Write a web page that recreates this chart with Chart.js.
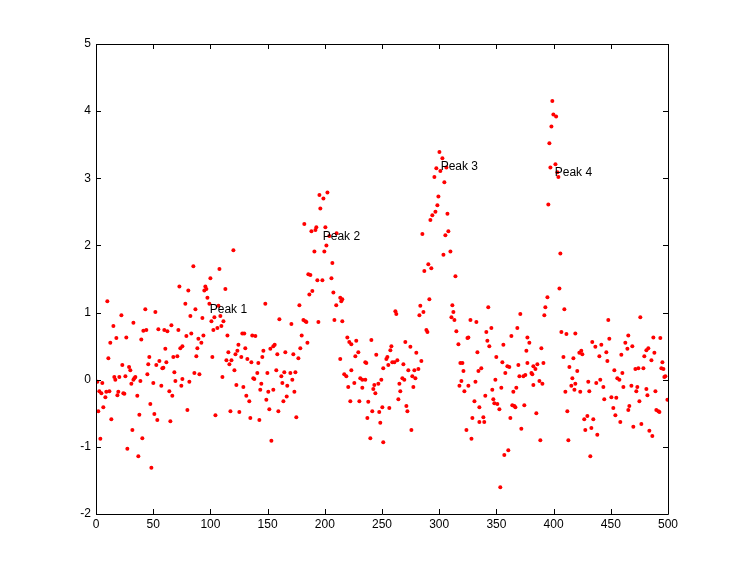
<!DOCTYPE html>
<html lang="en">
<head>
    <meta charset="UTF-8">
    <title>Peaks</title>
    <script src="https://cdn.jsdelivr.net/npm/chart.js"></script>
    <style>
        body { margin: 0; background: #fff; }
        #wrap { width: 737px; height: 577px; }
    </style>
</head>
<body>
    <div id="wrap"><canvas id="myChart" width="737" height="577"></canvas></div>
    <script>
    // sample positions
    const xValues = [
        9.9, 22.2, 32.7, 15.2, 41.4, 17.8, 26.5, 39.6, 12.5, 10.8, 23.0, 28.9, 30.0, 16.0, 20.4, 25.7, 16.9, 34.4, 33.5, 32.7,
        38.8, 1.2, 5.5, 30.9, 2.9, 4.7, 11.7, 9.0, 19.5, 23.9, 24.8, 18.7, 8.2, 36.1, 6.4, 2.0, 37.9, 13.4, 31.8, 40.5, 3.8, 27.4, 37.0,
        72.9, 80.7, 78.1, 43.1, 51.9, 82.5, 65.9, 44.0, 54.5, 59.7, 62.4, 72.0, 83.3, 79.0, 73.7, 75.5, 60.6, 46.6, 67.6, 71.1,
        55.4, 61.5, 45.7, 52.7, 58.0, 58.9, 68.5, 44.9, 75.5, 69.4, 81.6, 50.1, 57.1, 74.6, 64.1, 66.7, 47.5, 79.9, 51.0, 53.6, 65.0, 48.4,
        120.1, 85.1, 107.9, 100.0, 95.6, 96.5, 94.7, 113.1, 97.4, 99.1, 107.0, 86.9, 93.0, 100.9, 103.5, 108.7, 111.4, 109.6, 106.1, 102.6,
        93.9, 114.9, 89.5, 124.5, 92.1, 88.6, 115.7, 123.6, 121.9, 87.7, 101.7, 114.0, 118.4, 116.6, 121.0, 86.0, 90.4, 110.5, 122.7, 104.4, 117.5, 125.3,
        148.0, 160.3, 127.9, 129.6, 136.6, 139.3, 156.2, 155.0, 130.5, 152.4, 146.3, 165.5, 158.5, 127.0, 145.4, 132.3, 135.8, 141.9, 157.6, 164.6,
        141.0, 149.8, 162.0, 137.5, 138.4, 162.9, 144.5, 167.2, 128.8, 143.6, 155.0, 150.6, 131.4, 166.7, 134.0, 148.9, 163.8, 151.5, 159.4, 134.9, 142.8, 153.3,
        202.3, 195.3, 198.8, 196.1, 182.1, 200.5, 192.6, 191.8, 188.3, 204.0, 201.4, 190.9, 199.6, 206.6, 185.6, 187.4, 193.5, 197.9, 205.8, 189.1,
        186.5, 207.5, 177.8, 181.3, 183.0, 183.9, 194.4, 208.4, 170.8, 179.8, 184.8, 178.6, 172.5, 176.9, 174.3, 169.9, 171.6, 173.4, 175.1,
        210.3, 213.5, 215.3, 214.4, 210.0, 215.3, 219.7, 221.4, 223.2, 227.5, 240.7, 245.0, 229.3, 226.7, 213.5, 235.4, 236.3, 223.2, 251.1, 217.0,
        218.8, 231.0, 232.8, 235.4, 249.4, 225.8, 243.3, 246.8, 220.5, 232.8, 242.4, 244.2, 222.3, 230.2, 238.0, 250.3, 241.5, 247.6, 237.2, 248.5, 239.8, 251.1,
        292.3, 285.3, 290.5, 287.0, 293.1, 291.4, 283.5, 282.7, 286.2, 261.7, 262.5, 288.8, 289.7, 270.4, 258.2, 257.3, 274.8, 254.7, 253.8, 280.0,
        259.0, 260.8, 263.4, 284.4, 268.7, 255.5, 273.0, 278.3, 281.8, 267.8, 269.5, 276.5, 279.2, 265.2, 266.0, 277.4, 264.3, 271.3, 256.4, 272.2, 275.7,
        300.2, 302.8, 306.3, 297.5, 301.0, 295.8, 304.5, 299.3, 298.4, 296.7, 294.0, 307.2, 308.0, 305.4, 309.8, 303.7, 314.2, 311.5, 312.4, 310.7,
        313.3, 327.3, 332.5, 315.0, 325.5, 324.7, 316.8, 333.4, 318.5, 320.3, 321.2, 334.3, 319.4, 317.7, 325.5, 331.7, 322.0, 330.8, 335.1, 335.1, 329.0, 323.8, 328.2,
        342.9, 370.9, 345.6, 341.2, 368.3, 363.1, 377.1, 342.1, 343.8, 356.1, 376.2, 349.9, 355.2, 359.6, 361.3, 369.2, 377.1, 336.8, 357.8, 370.1,
        373.6, 375.3, 349.1, 364.8, 367.4, 346.4, 354.3, 340.3, 347.3, 348.2, 350.8, 363.9, 365.7, 366.6, 374.4, 352.6, 338.6, 362.2, 339.4, 371.8, 360.4, 356.9, 353.4,
        398.9, 399.8, 402.2, 398.1, 396.3, 401.6, 397.2, 403.3, 404.2, 395.4, 405.9, 405.1, 394.6, 392.8, 391.9, 409.4, 406.8, 411.2, 419.0, 378.8,
        389.3, 408.6, 417.3, 382.3, 384.1, 385.8, 391.1, 413.8, 380.6, 381.4, 416.4, 387.6, 390.2, 382.3, 419.0, 415.5, 418.2, 410.3, 384.9, 412.0, 388.4, 412.9,
        447.8, 448.7, 433.8, 436.5, 441.7, 446.1, 424.2, 422.5, 425.1, 440.0, 459.2, 447.0, 453.1, 420.7, 460.1, 455.7, 457.5, 440.8, 430.3, 437.3,
        443.5, 461.0, 431.2, 423.3, 444.3, 450.5, 454.8, 452.2, 454.0, 429.5, 426.8, 434.7, 458.3, 433.0, 427.7, 438.2, 432.1,
        475.8, 465.3, 487.2, 493.3, 462.7, 468.8, 464.5, 482.8, 481.1, 479.3, 488.1, 485.5, 495.1, 471.5, 474.1, 478.5, 494.2, 496.0, 496.8, 497.7,
        468.0, 473.2, 472.3, 481.1, 489.0, 482.0, 475.0, 499.5, 466.2, 465.3, 489.8, 491.6, 492.5, 469.7, 476.7, 483.7, 486.3
    ];
    // sample values, same order
    const yValues = [
        1.17, 0.96, 0.85, 0.80, 0.73, 0.62, 0.63, 0.60, 0.55, 0.32, 0.22, 0.19, 0.14, 0.04, 0.04, 0.05, 0.00, 0.04, 0.02, 0.00,
        -0.02, -0.03, -0.05, -0.06, -0.17, -0.20, -0.17, -0.18, -0.18, -0.20, -0.21, -0.23, -0.26, -0.24, -0.41, -0.47, -0.52, -0.59, -0.75, -0.87, -0.88, -1.03, -1.14,
        1.39, 1.33, 1.13, 1.05, 1.01, 0.95, 0.81, 0.74, 0.75, 0.74, 0.72, 0.74, 0.69, 0.65, 0.47, 0.50, 0.46, 0.34, 0.34, 0.35,
        0.28, 0.26, 0.23, 0.22, 0.17, 0.18, 0.11, 0.08, 0.01, -0.02, -0.03, -0.05, -0.09, -0.09, -0.17, -0.24, -0.36, -0.45, -0.51, -0.60, -0.62, -1.31,
        1.93, 1.69, 1.65, 1.51, 1.39, 1.35, 1.33, 1.35, 1.22, 1.13, 1.10, 1.05, 0.92, 0.87, 0.93, 0.95, 0.87, 0.80, 0.77, 0.74,
        0.66, 0.66, 0.61, 0.52, 0.55, 0.47, 0.41, 0.43, 0.38, 0.35, 0.34, 0.29, 0.29, 0.23, 0.14, 0.10, 0.08, 0.04, -0.08, -0.53, -0.47, -0.48,
        1.13, 0.90, 0.69, 0.69, 0.66, 0.65, 0.52, 0.50, 0.47, 0.46, 0.43, 0.41, 0.38, 0.34, 0.34, 0.31, 0.26, 0.25, 0.14, 0.11,
        0.10, 0.10, 0.05, 0.02, 0.01, -0.05, -0.06, -0.09, -0.11, -0.15, -0.15, -0.18, -0.24, -0.25, -0.32, -0.30, -0.32, -0.44, -0.47, -0.57, -0.60, -0.91,
        2.79, 2.75, 2.70, 2.55, 2.32, 2.27, 2.27, 2.23, 2.21, 2.14, 2.00, 1.91, 1.91, 1.74, 1.57, 1.56, 1.48, 1.48, 1.51, 1.32,
        1.27, 1.30, 1.11, 0.89, 0.87, 0.86, 0.86, 0.89, 0.83, 0.66, 0.55, 0.47, 0.38, 0.32, 0.11, 0.10, 0.00, -0.18, -0.56,
        2.18, 1.22, 1.20, 1.17, 1.11, 0.87, 0.63, 0.56, 0.53, 0.58, 0.59, 0.37, 0.41, 0.35, 0.31, 0.26, 0.25, 0.14, 0.17, 0.08,
        0.05, 0.02, 0.00, 0.00, 0.00, -0.05, -0.08, -0.06, -0.11, -0.12, -0.14, -0.20, -0.32, -0.32, -0.33, -0.41, -0.47, -0.48, -0.57, -0.64, -0.87, -0.93,
        2.38, 2.17, 1.72, 1.62, 1.66, 1.20, 1.10, 0.96, 1.01, 1.02, 0.98, 0.74, 0.71, 0.56, 0.50, 0.44, 0.49, 0.34, 0.31, 0.40,
        0.26, 0.26, 0.29, 0.28, 0.23, 0.22, 0.14, 0.14, 0.16, 0.02, 0.00, 0.05, 0.02, -0.06, -0.17, -0.11, -0.29, -0.39, -0.42, -0.47, -0.75,
        3.39, 3.30, 3.16, 3.15, 3.11, 3.02, 2.94, 2.73, 2.60, 2.50, 2.45, 2.47, 2.21, 2.15, 1.91, 1.86, 1.54, 1.11, 1.01, 0.93,
        0.89, 0.89, 0.86, 0.72, 0.63, 0.62, 0.53, 0.41, 0.25, 0.25, 0.13, 0.13, -0.02, -0.09, -0.09, -0.03, -0.17, -0.32, -0.41, -0.63, -0.57, -0.75, -0.88,
        1.08, 0.98, 0.77, 0.71, 0.77, 0.65, 0.63, 0.58, 0.50, 0.52, 0.43, 0.34, 0.26, 0.20, 0.19, 0.22, 0.25, 0.17, 0.10, 0.05,
        0.05, 0.07, 0.00, -0.18, -0.12, -0.15, -0.12, -0.24, -0.29, -0.35, -0.36, -0.38, -0.39, -0.41, -0.38, -0.44, -0.56, -0.57, -0.63, -0.73, -1.05, -1.12, -1.60,
        4.15, 3.95, 3.92, 3.77, 3.52, 3.21, 3.16, 3.09, 3.02, 2.61, 1.88, 1.36, 1.23, 1.08, 0.96, 1.05, 0.71, 0.68, 0.69, 0.55,
        0.47, 0.34, 0.32, 0.20, 0.16, 0.23, 0.25, 0.19, 0.10, 0.08, 0.02, -0.02, -0.06, -0.08, -0.06, -0.09, -0.15, -0.18, -0.50, -0.47, -0.90, -0.90,
        0.89, 0.61, 0.56, 0.49, 0.52, 0.41, 0.43, 0.40, 0.38, 0.35, 0.37, 0.28, 0.14, 0.13, 0.10, 0.02, 0.00, 0.00, -0.03, -0.05,
        -0.11, -0.11, -0.17, -0.18, -0.29, -0.26, -0.27, -0.42, -0.53, -0.54, -0.59, -0.59, -0.63, -0.72, -0.75, -0.82, -1.14,
        0.93, 0.66, 0.63, 0.62, 0.55, 0.50, 0.46, 0.47, 0.44, 0.35, 0.40, 0.29, 0.26, 0.16, 0.17, 0.17, 0.17, 0.16, 0.04, 0.05,
        -0.09, -0.11, -0.17, -0.14, -0.17, -0.23, -0.32, -0.30, -0.39, -0.45, -0.45, -0.47, -0.48, -0.70, -0.66, -0.76, -0.84
    ];
    const peakLabels = ['Peak 1', 'Peak 2', 'Peak 3', 'Peak 4'];
    const peakX = [99.4, 198.2, 301.3, 401.0];
    const peakY = [1.04, 2.13, 3.18, 3.08];
    const xTicks = [0, 50, 100, 150, 200, 250, 300, 350, 400, 450, 500];
    const yTicks = [-2, -1, 0, 1, 2, 3, 4, 5];

    const fontFamily = '"Liberation Sans", Arial, sans-serif';
    const points = xValues.map((x, i) => ({ x: x, y: yValues[i] }));

    // box round the axes, inward ticks on all four sides, peak labels
    const axesBox = {
        id: 'axesBox',
        afterDatasetsDraw(chart) {
            const c = chart.ctx;
            const a = chart.chartArea;
            const xs = chart.scales.x;
            const ys = chart.scales.y;
            const tl = 5;
            c.save();
            c.strokeStyle = '#000';
            c.lineWidth = 1;
            c.beginPath();
            c.rect(Math.round(a.left) + 0.5, Math.round(a.top) + 0.5,
                   Math.round(a.right - a.left), Math.round(a.bottom - a.top));
            xTicks.forEach(v => {
                const px = Math.round(xs.getPixelForValue(v)) + 0.5;
                c.moveTo(px, a.bottom); c.lineTo(px, a.bottom - tl);
                c.moveTo(px, a.top); c.lineTo(px, a.top + tl);
            });
            yTicks.forEach(v => {
                const py = Math.round(ys.getPixelForValue(v)) + 0.5;
                c.moveTo(a.left, py); c.lineTo(a.left + tl, py);
                c.moveTo(a.right, py); c.lineTo(a.right - tl, py);
            });
            c.stroke();

            c.fillStyle = '#000';
            c.font = '12px ' + fontFamily;
            c.textAlign = 'left';
            c.textBaseline = 'middle';
            peakLabels.forEach((t, i) => {
                c.fillText(t, xs.getPixelForValue(peakX[i]), ys.getPixelForValue(peakY[i]));
            });
            c.restore();
        }
    };

    const ctx = document.getElementById('myChart').getContext('2d');
    const myChart = new Chart(ctx, {
        type: 'scatter',
        data: {
            datasets: [{
                data: points,
                pointStyle: 'circle',
                pointRadius: 2,
                pointBorderWidth: 0,
                backgroundColor: '#ff0000',
                borderColor: '#ff0000'
            }]
        },
        options: {
            responsive: false,
            animation: false,
            events: [],
            layout: { padding: { left: 66, right: 69, top: 44, bottom: 43 } },
            plugins: { legend: { display: false }, tooltip: { enabled: false } },
            scales: {
                x: {
                    type: 'linear',
                    min: 0,
                    max: 500,
                    afterFit: s => { s.height = 20; },
                    afterBuildTicks: s => { s.ticks = xTicks.map(v => ({ value: v })); },
                    grid: { display: false, drawTicks: false },
                    border: { display: false },
                    ticks: { color: '#000', padding: 3, maxRotation: 0, font: { family: fontFamily, size: 12 } }
                },
                y: {
                    type: 'linear',
                    min: -2,
                    max: 5,
                    afterFit: s => { s.width = 30; },
                    afterBuildTicks: s => { s.ticks = yTicks.map(v => ({ value: v })); },
                    grid: { display: false, drawTicks: false },
                    border: { display: false },
                    ticks: { color: '#000', padding: 5, font: { family: fontFamily, size: 12 } }
                }
            }
        },
        plugins: [axesBox]
    });
    </script>
</body>
</html>
